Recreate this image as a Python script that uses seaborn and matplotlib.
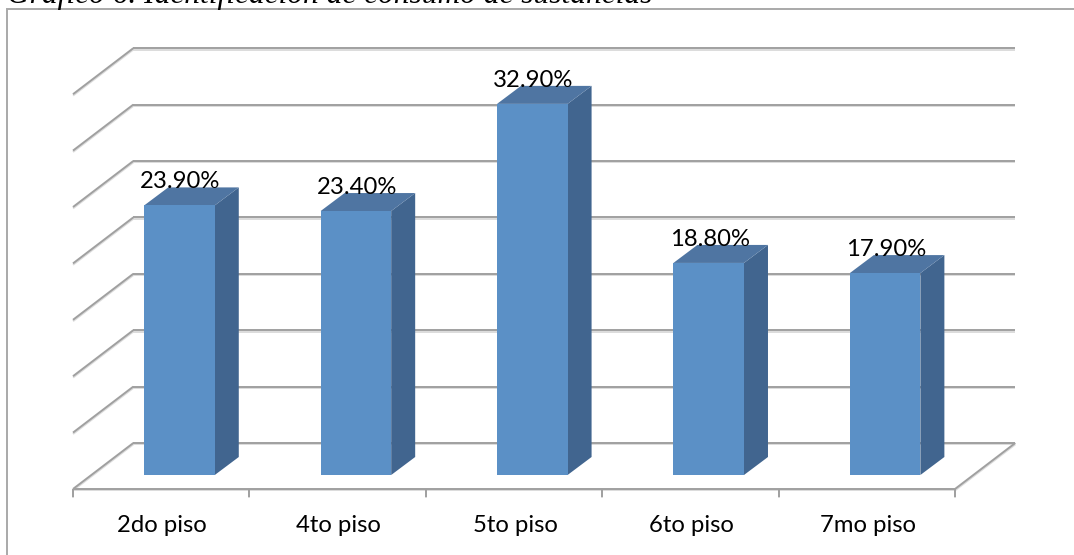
import matplotlib
matplotlib.use("Agg")
import matplotlib.pyplot as plt
import pandas as pd
import seaborn as sns
from matplotlib.lines import Line2D
from matplotlib.patches import Polygon, Rectangle
from matplotlib.transforms import ScaledTranslation, IdentityTransform

floors = ["2do piso", "4to piso", "5to piso", "6to piso", "7mo piso"]
shares = [23.9, 23.4, 32.9, 18.8, 17.9]
grid_levels = [0, 5, 10, 15, 20, 25, 30, 35]
title_text = "Gráfico 6. Identificación de consumo de sustancias"

W, H = 1074, 555
DPI = 100
GRID = "#a0a0a0"
GRID_SHADOW = "#dcdcdc"
FRONT = "#5b90c6"
SIDE = "#41658f"
TOP = "#4f75a2"

sns.set_theme(style="white")
plt.rcParams["font.family"] = ["Lato", "DejaVu Sans"]

fig = plt.figure(figsize=(W / DPI, H / DPI), dpi=DPI, facecolor="white")

# Plot plane of the bar fronts, given in pixels from the top-left corner
PLANE_LEFT, PLANE_RIGHT, PLANE_BASE, PLANE_TOP = 91.3, 973.3, 475.0, 80.2
ax = fig.add_axes([
    PLANE_LEFT / W,
    1 - PLANE_BASE / H,
    (PLANE_RIGHT - PLANE_LEFT) / W,
    (PLANE_BASE - PLANE_TOP) / H,
])
# Bars stay in front of the wall and floor rules drawn on the figure
ax.set_zorder(2)

frame = pd.DataFrame({"floor": floors, "share": shares})
sns.barplot(data=frame, x="floor", y="share", color=FRONT, saturation=1,
            width=0.4, ax=ax, zorder=5, linewidth=0)
ax.set_xlim(-0.5, len(floors) - 0.5)
ax.set_ylim(0, grid_levels[-1])
ax.set_xlabel("")
ax.set_ylabel("")
ax.set_yticks([])
ax.patch.set_alpha(0)
for spine in ax.spines.values():
    spine.set_visible(False)
ax.tick_params(axis="x", length=0, pad=29, labelsize=17.2)


def screen(x, v, dx=0.0, dy=0.0):
    """Data position shifted by a depth offset, as display pixels."""
    px, py = ax.transData.transform((x, v))
    return px + dx, py + dy


def seg(p, q, lw=1.4, color=GRID, z=1):
    # A pale line one pixel lower gives the soft shadow under each rule
    fig.add_artist(Line2D([p[0], q[0]], [p[1] - 1.4, q[1] - 1.4],
                          transform=IdentityTransform(), color=GRID_SHADOW,
                          lw=lw, zorder=z - 0.5, solid_capstyle="butt"))
    fig.add_artist(Line2D([p[0], q[0]], [p[1], q[1]], transform=IdentityTransform(),
                          color=color, lw=lw, zorder=z, solid_capstyle="butt"))


# Depth offsets of the wall and floor edge relative to the bar plane
WALL = (42.0, 32.0)
EDGE = (-18.3, -14.0)
BAR = (24.0, 18.0)
x_lo, x_hi = -0.5, len(floors) - 0.5

# Back wall gridlines with their slanted return towards the viewer
for level in grid_levels:
    back_l = screen(x_lo, level, *WALL)
    back_r = screen(x_hi, level, *WALL)
    front_l = screen(x_lo, level, *EDGE)
    seg(front_l, back_l)
    seg(back_l, back_r)

# Floor front edge, right side edge and tick marks
seg(screen(x_lo, 0, *EDGE), screen(x_hi, 0, *EDGE))
seg(screen(x_hi, 0, *EDGE), screen(x_hi, 0, *WALL))
for i in range(len(floors) + 1):
    p = screen(x_lo + i, 0, *EDGE)
    seg(p, (p[0], p[1] - 8))

# Side and top faces of every bar, then its value label
half = 0.2
for i, value in enumerate(shares):
    l, r = i - half, i + half
    side = [screen(r, 0), screen(r, 0, *BAR), screen(r, value, *BAR), screen(r, value)]
    top = [screen(l, value), screen(r, value), screen(r, value, *BAR), screen(l, value, *BAR)]
    ax.add_patch(Polygon(side, closed=True, transform=IdentityTransform(),
                         facecolor=SIDE, edgecolor="none", zorder=4, clip_on=False))
    ax.add_patch(Polygon(top, closed=True, transform=IdentityTransform(),
                         facecolor=TOP, edgecolor="none", zorder=4, clip_on=False))
    ax.annotate(f"{value:.2f}%", (i, value), xytext=(0.7, 12.5), textcoords="offset points",
                ha="center", va="baseline", fontsize=17.2, color="black", zorder=6,
                annotation_clip=False)

# Category labels sit under the floor edge, shifted with the depth
shift = ScaledTranslation((EDGE[0] + 1) / DPI, 0, fig.dpi_scale_trans)
for label in ax.get_xticklabels():
    label.set_transform(label.get_transform() + shift)
    label.set_color("black")

# Outer chart frame, running past the right and bottom borders
fig.add_artist(Rectangle((6.5, -5), W + 10, H - 8.5 + 5, transform=IdentityTransform(),
                         facecolor="none", edgecolor="#a9a9a9", lw=1.4, zorder=0))

fig.text(7 / W, 1 - 3 / H, title_text, family="Liberation Serif", style="italic",
         fontsize=22.6, ha="left", va="baseline", color="black")

fig.savefig("out.png", dpi=DPI)
